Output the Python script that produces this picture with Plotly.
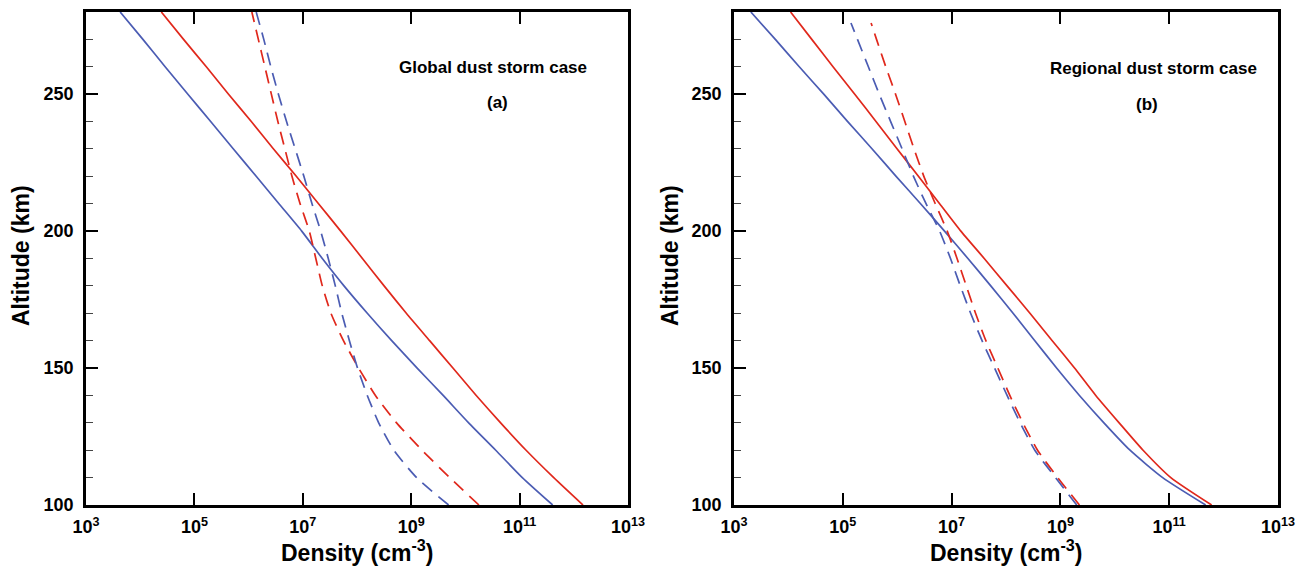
import plotly.graph_objects as go

# ---------------- data (log10 of density, cm^-3) ----------------
alt = [100, 110, 120, 130, 140, 150, 160, 170, 180, 190, 200,
       210, 220, 230, 240, 250, 260, 270, 280]

# Panel (a) Global dust storm case
a_red_solid = [12.17, 11.63, 11.12, 10.65, 10.20, 9.77, 9.34, 8.91, 8.50, 8.10, 7.70,
               7.29, 6.88, 6.46, 6.05, 5.63, 5.22, 4.80, 4.39]
a_blue_solid = [11.61, 11.05, 10.56, 10.06, 9.59, 9.11, 8.64, 8.19, 7.76, 7.36, 6.98,
                6.56, 6.14, 5.72, 5.30, 4.88, 4.46, 4.05, 3.63]
a_red_dash = [10.25, 9.71, 9.20, 8.73, 8.34, 8.03, 7.75, 7.52, 7.36, 7.24, 7.12,
              6.95, 6.80, 6.67, 6.54, 6.42, 6.30, 6.18, 6.06]
a_blue_dash = [9.69, 9.10, 8.68, 8.40, 8.19, 8.01, 7.86, 7.72, 7.60, 7.47, 7.33,
               7.17, 7.02, 6.86, 6.70, 6.55, 6.41, 6.28, 6.14]

# Panel (b) Regional dust storm case
b_red_solid = [11.78, 11.03, 10.52, 10.08, 9.65, 9.26, 8.85, 8.44, 8.02, 7.60, 7.17,
               6.78, 6.39, 6.00, 5.61, 5.22, 4.82, 4.43, 4.04]
b_blue_solid = [11.67, 10.88, 10.28, 9.80, 9.35, 8.93, 8.53, 8.13, 7.72, 7.30, 6.87,
                6.43, 5.98, 5.54, 5.09, 4.65, 4.20, 3.76, 3.31]
alt_b_dash = [100, 110, 120, 130, 140, 150, 160, 170, 180, 190, 200,
              210, 220, 230, 240, 250, 260, 270, 276]
b_red_dash = [9.35, 8.95, 8.58, 8.31, 8.07, 7.85, 7.63, 7.44, 7.27, 7.10, 6.92,
              6.70, 6.49, 6.31, 6.14, 5.97, 5.79, 5.62, 5.52]
b_blue_dash = [9.30, 8.91, 8.53, 8.26, 8.02, 7.79, 7.56, 7.35, 7.16, 6.98, 6.78,
               6.53, 6.30, 6.09, 5.88, 5.67, 5.47, 5.27, 5.15]

x_tick_exp = [3, 5, 7, 9, 11, 13]
y_ticks = [100, 150, 200, 250]

RED = "#e0281c"
BLUE = "#4b5cb3"
FONT = "Liberation Sans, Arial, sans-serif"
W, H = 1308, 574
DASH = "13px,8px"

fig = go.Figure()

def add(xlog, ys, color, dash, xa, ya):
    fig.add_trace(go.Scatter(
        x=[10 ** v for v in xlog], y=ys, mode="lines",
        line=dict(color=color, width=1.7, dash=dash, shape="spline", smoothing=0.6),
        xaxis=xa, yaxis=ya, showlegend=False, hoverinfo="skip"))

add(a_red_solid, alt, RED, "solid", "x", "y")
add(a_blue_solid, alt, BLUE, "solid", "x", "y")
add(a_red_dash, alt, RED, DASH, "x", "y")
add(a_blue_dash, alt, BLUE, DASH, "x", "y")

add(b_red_solid, alt, RED, "solid", "x2", "y2")
add(b_blue_solid, alt, BLUE, "solid", "x2", "y2")
add(b_red_dash, alt_b_dash, RED, DASH, "x2", "y2")
add(b_blue_dash, alt_b_dash, BLUE, DASH, "x2", "y2")

tickfont = dict(family=FONT, size=18, color="black", weight="bold")

def xaxis(domain, anchor):
    return dict(
        domain=domain, anchor=anchor, type="log", range=[3, 13], automargin=False,
        tickvals=[10 ** e for e in x_tick_exp],
        ticktext=["10<sup>%d</sup>" % e for e in x_tick_exp],
        ticks="inside", ticklen=12, tickwidth=2, tickcolor="black",
        showline=True, linecolor="black", linewidth=2.5, mirror="ticks",
        showgrid=False, zeroline=False, tickfont=tickfont, ticklabelstandoff=4)

def yaxis(domain, anchor):
    return dict(
        domain=domain, anchor=anchor, range=[100, 280], automargin=False,
        tickvals=y_ticks, ticks="inside", ticklen=12, tickwidth=2, tickcolor="black",
        minor=dict(dtick=10, tick0=100, ticks="inside", ticklen=7, tickwidth=1,
                   tickcolor="#444", showgrid=False),
        showline=True, linecolor="black", linewidth=2.5, mirror=True,
        showgrid=False, zeroline=False, tickfont=tickfont, ticklabelstandoff=6)

ydom = [1 - 505 / H, 1 - 12 / H]
fig.update_layout(
    width=W, height=H, margin=dict(l=0, r=0, t=0, b=0, autoexpand=False),
    paper_bgcolor="white", plot_bgcolor="white",
    xaxis=xaxis([86 / W, 628 / W], "y"),
    yaxis=yaxis(ydom, "x"),
    xaxis2=xaxis([734 / W, 1278 / W], "y2"),
    yaxis2=yaxis(ydom, "x2"),
)

def ann(text, px, py, size, angle=0):
    fig.add_annotation(text=text, x=px / W, y=1 - py / H, xref="paper", yref="paper",
                       showarrow=False, textangle=angle, xanchor="center", yanchor="middle",
                       font=dict(family=FONT, size=size, color="black", weight="bold"))

ann("Altitude (km)", 21, 256, 23, -90)
ann("Altitude (km)", 670, 256, 23, -90)
ann("Density (cm<sup>-3</sup>)", 357, 551, 23)
ann("Density (cm<sup>-3</sup>)", 1006, 551, 23)
ann("Global dust storm case", 493, 67, 17)
ann("(a)", 497, 103, 17)
ann("Regional dust storm case", 1153, 68, 17)
ann("(b)", 1147, 104, 17)

fig.write_html("out.html")
